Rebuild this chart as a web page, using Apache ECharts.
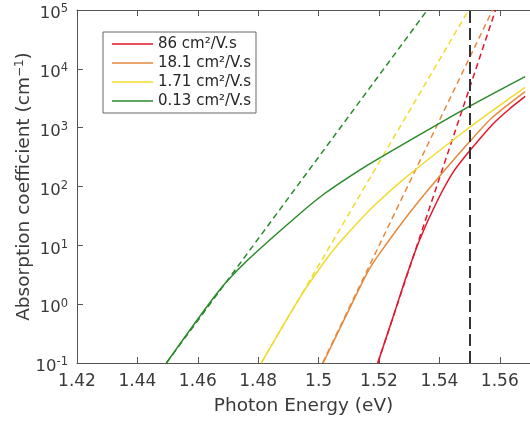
<!DOCTYPE html>
<html>
<head>
<meta charset="utf-8">
<script src="https://cdn.jsdelivr.net/npm/echarts@6/dist/echarts.min.js"></script>
<style>
html,body{margin:0;padding:0;background:#fff}
#main{width:530px;height:421px}
</style>
</head>
<body>
<div id="main"></div>
<script>
// mobility labels
var names = ['86 cm²/V.s', '18.1 cm²/V.s', '1.71 cm²/V.s', '0.13 cm²/V.s'];
var colors = ['#e3152b', '#e6893c', '#f0dc2c', '#2a8a2a'];

// absorption curves (photon energy eV, alpha cm^-1)
var redE = [1.5196, 1.5248, 1.5291, 1.5335, 1.5390, 1.5444, 1.5499, 1.5575, 1.5629, 1.5684];
var redA = [0.1, 0.634, 3.02, 12.6, 53.0, 170.6, 396, 1125, 2018, 3396];
var orangeE = [1.5015, 1.5095, 1.5160, 1.5193, 1.5302, 1.5411, 1.5499, 1.5575, 1.5684];
var orangeA = [0.1, 0.703, 3.34, 6.24, 36.1, 172.6, 570, 1489, 4111];
var yellowE = [1.4810, 1.4941, 1.5020, 1.5062, 1.5128, 1.5193, 1.5281, 1.5390, 1.5497, 1.5586, 1.5684];
var yellowA = [0.1, 1.37, 5.31, 10.0, 24.0, 52.4, 132.4, 371, 988, 2133, 4840];
var greenE = [1.4496, 1.4669, 1.4768, 1.4931, 1.5020, 1.5128, 1.5193, 1.5499, 1.5684];
var greenA = [0.1, 1.66, 5.79, 32.2, 76.0, 179.5, 287, 2296, 7396];

// exponential tail fits (dashed): start/end energy at alpha = 0.1 and 1e5
var fitE = [
    [1.5196, 1.5586],
    [1.5013, 1.5576],
    [1.4810, 1.5497],
    [1.4496, 1.5360]
];
var fitA = [0.1, 100000];

var bandEdge = 1.55;
var xTicks = {min: 1.42, max: 1.57, interval: 0.02};

function pairs(xs, ys) {
    return xs.map(function (x, i) { return [x, ys[i]]; });
}

var solid = [pairs(redE, redA), pairs(orangeE, orangeA), pairs(yellowE, yellowA), pairs(greenE, greenA)];

var font = 'DejaVu Sans';
var textColor = '#3a3a3a';
var axisColor = '#555';

var series = [];
solid.forEach(function (d, i) {
    series.push({
        name: names[i],
        type: 'line',
        data: d,
        symbol: 'none',
        smooth: 0.25,
        lineStyle: {color: colors[i], width: 1.5},
        itemStyle: {color: colors[i]},
        z: 3
    });
});
fitE.forEach(function (e, i) {
    series.push({
        name: names[i] + ' fit',
        type: 'line',
        data: pairs(e, fitA),
        symbol: 'none',
        lineStyle: {color: colors[i], width: 1.5, type: [6, 4]},
        z: 2
    });
});
series[0].markLine = {
    silent: true,
    symbol: ['none', 'none'],
    label: {show: false},
    lineStyle: {color: '#333', width: 2, type: [12, 5]},
    data: [{xAxis: bandEdge}]
};

var myChart = echarts.init(document.getElementById('main'));
var option = {
    backgroundColor: '#fff',
    animation: false,
    grid: {left: 77, top: 10, width: 458, height: 354},
    legend: {
        data: names,
        orient: 'vertical',
        left: 103,
        top: 32,
        padding: [4, 5, 4, 9],
        itemGap: 3,
        itemWidth: 41,
        itemHeight: 1.5,
        icon: 'rect',
        borderColor: '#666',
        borderWidth: 1,
        backgroundColor: '#fff',
        textStyle: {fontFamily: font, fontSize: 15, color: '#262626', lineHeight: 16}
    },
    xAxis: [{
        type: 'value',
        min: xTicks.min,
        max: xTicks.max,
        interval: xTicks.interval,
        name: 'Photon Energy (eV)',
        nameLocation: 'middle',
        nameGap: 34,
        nameMoveOverlap: false,
        nameTextStyle: {fontFamily: font, fontSize: 18.5, color: textColor},
        axisLine: {show: true, lineStyle: {color: axisColor, width: 1}},
        axisTick: {show: true, inside: true, length: 6, lineStyle: {color: axisColor}},
        axisLabel: {fontFamily: font, fontSize: 17, color: textColor, margin: 10, showMaxLabel: false},
        splitLine: {show: false}
    }, {
        type: 'value',
        position: 'top',
        min: xTicks.min,
        max: xTicks.max,
        interval: xTicks.interval,
        axisLine: {show: true, lineStyle: {color: axisColor, width: 1}},
        axisTick: {show: true, inside: true, length: 6, lineStyle: {color: axisColor}},
        axisLabel: {show: false},
        splitLine: {show: false}
    }],
    yAxis: {
        type: 'log',
        logBase: 10,
        min: 0.1,
        max: 100000,
        name: 'Absorption coefficient (cm{s|−1})',
        nameLocation: 'middle',
        nameGap: 42,
        nameMoveOverlap: false,
        nameTextStyle: {
            fontFamily: font, fontSize: 18.5, color: textColor,
            rich: {s: {fontFamily: font, fontSize: 12, color: textColor, padding: [0, 0, 9, 0]}}
        },
        axisLine: {show: true, lineStyle: {color: axisColor, width: 1}},
        axisTick: {show: true, inside: true, length: 6, lineStyle: {color: axisColor}},
        axisLabel: {
            margin: 9,
            padding: [6, 0, 0, 0],
            formatter: function (v) {
                return '{b|10}{s|' + Math.round(Math.log10(v)) + '}';
            },
            rich: {
                b: {fontFamily: font, fontSize: 16.5, color: textColor, verticalAlign: 'bottom'},
                s: {fontFamily: font, fontSize: 11.5, color: textColor, verticalAlign: 'bottom', padding: [0, 0, 7, 0]}
            }
        },
        splitLine: {show: false}
    },
    series: series
};
myChart.setOption(option);
</script>
</body>
</html>
